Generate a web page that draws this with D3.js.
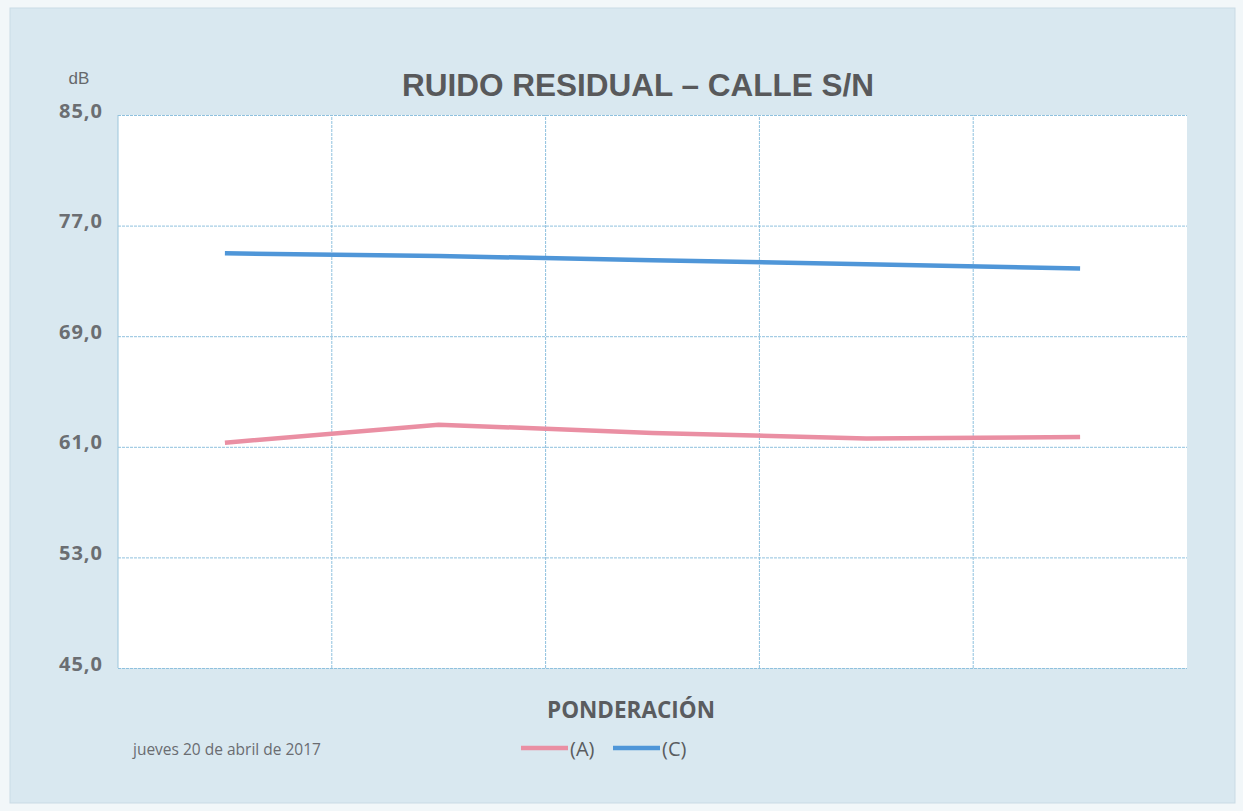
<!DOCTYPE html>
<html>
<head>
<meta charset="utf-8">
<script src="https://cdn.jsdelivr.net/npm/d3@7"></script>
<style>
  html, body { margin: 0; padding: 0; background: #ffffff; }
  svg { display: block; }
</style>
</head>
<body>
<svg id="chart" width="1243" height="811"></svg>
<script>
const categories = ["1", "2", "3", "4", "5"];
const seriesA = [61.3, 62.6, 62.0, 61.6, 61.7];
const seriesC = [75.0, 74.8, 74.5, 74.2, 73.9];
const yTicks = [45, 53, 61, 69, 77, 85];
const seriesNames = ["(A)", "(C)"];
const titleText = "RUIDO RESIDUAL – CALLE S/N";
const yUnit = "dB";
const xTitle = "PONDERACIÓN";
const dateText = "jueves 20 de abril de 2017";

const svg = d3.select("#chart");
const W = 1243, H = 811;
const m = { left: 118, right: 1187, top: 115, bottom: 668 };

// background (scanned light blue paper)
svg.append("rect").attr("x", 0).attr("y", 0).attr("width", W).attr("height", H).attr("fill", "#f2f7f9");
svg.append("rect").attr("x", 10).attr("y", 8).attr("width", 1225).attr("height", 795)
  .attr("fill", "#d9e8f0").attr("stroke", "#c9dbe5").attr("stroke-width", 1);

const x = d3.scaleBand().domain(categories).range([m.left, m.right]).padding(0);
const y = d3.scaleLinear().domain([45, 85]).range([m.bottom, m.top]);

// plot area
svg.append("rect").attr("x", m.left).attr("y", m.top)
  .attr("width", m.right - m.left).attr("height", m.bottom - m.top).attr("fill", "#ffffff");

// horizontal gridlines
const gy = svg.append("g")
  .attr("transform", `translate(${m.left},0)`)
  .call(d3.axisLeft(y).tickValues(yTicks).tickSize(-(m.right - m.left)).tickFormat(""));
gy.select(".domain").remove();
gy.selectAll(".tick line").attr("stroke", "#8fc1de").attr("stroke-width", 1).attr("stroke-dasharray", "3,1");

// vertical gridlines at category boundaries
const gx = svg.append("g")
  .attr("transform", `translate(0,${m.bottom})`)
  .call(d3.axisBottom(x).tickSize(-(m.bottom - m.top)).tickFormat(""));
gx.select(".domain").remove();
gx.selectAll(".tick line")
  .attr("transform", d => `translate(${x.bandwidth() / 2},0)`)
  .attr("stroke", "#8fc1de").attr("stroke-width", 1).attr("stroke-dasharray", "3,1")
  .filter(d => d === categories[categories.length - 1]).remove();

// left axis line
svg.append("line").attr("x1", m.left).attr("x2", m.left).attr("y1", m.top).attr("y2", m.bottom)
  .attr("stroke", "#9cc6dc").attr("stroke-width", 1);

// y tick labels
const yl = svg.append("g").attr("transform", `translate(${m.left - 12},0)`)
  .call(d3.axisLeft(y).tickValues(yTicks).tickSize(0).tickFormat(d => d3.format(".1f")(d).replace(".", ",")));
yl.select(".domain").remove();
yl.selectAll("text").attr("font-family", "'Open Sans', sans-serif").attr("font-size", 20)
  .attr("font-weight", "bold").attr("fill", "#6b6e72").attr("letter-spacing", "1px").attr("dy", "0.1em");

// lines
const line = d3.line().x((d, i) => x(categories[i]) + x.bandwidth() / 2).y(d => y(d));
svg.append("path").datum(seriesC).attr("d", line).attr("fill", "none")
  .attr("stroke", "#4f96d8").attr("stroke-width", 4.5).attr("stroke-linecap", "butt");
svg.append("path").datum(seriesA).attr("d", line).attr("fill", "none")
  .attr("stroke", "#ea8fa3").attr("stroke-width", 4.5).attr("stroke-linecap", "butt");

// titles
svg.append("text").attr("x", 638).attr("y", 96).attr("text-anchor", "middle")
  .attr("font-family", "'Liberation Sans', Arial, sans-serif").attr("font-weight", "bold")
  .attr("font-size", 31.5).attr("fill", "#58595b").text(titleText);
svg.append("text").attr("x", 79).attr("y", 84).attr("text-anchor", "middle")
  .attr("font-family", "'Liberation Sans', Arial, sans-serif")
  .attr("font-size", 17).attr("fill", "#66686b").text(yUnit);
svg.append("text").attr("x", 631).attr("y", 718).attr("text-anchor", "middle")
  .attr("font-family", "'Open Sans', sans-serif").attr("font-weight", "bold")
  .attr("font-size", 22.5).attr("fill", "#5a5c5f").text(xTitle);
svg.append("text").attr("x", 133).attr("y", 755)
  .attr("font-family", "'Open Sans', sans-serif")
  .attr("font-size", 15.5).attr("fill", "#6a6c70").text(dateText);

// legend
const legColors = ["#ea8fa3", "#4f96d8"];
const legX = [521, 613];
seriesNames.forEach((n, i) => {
  svg.append("line").attr("x1", legX[i]).attr("x2", legX[i] + 47).attr("y1", 748).attr("y2", 748)
    .attr("stroke", legColors[i]).attr("stroke-width", 4.5);
  svg.append("text").attr("x", legX[i] + 49).attr("y", 756)
    .attr("font-family", "'Open Sans', sans-serif").attr("font-size", 20)
    .attr("fill", "#5a5c5f").text(n);
});
</script>
</body>
</html>
